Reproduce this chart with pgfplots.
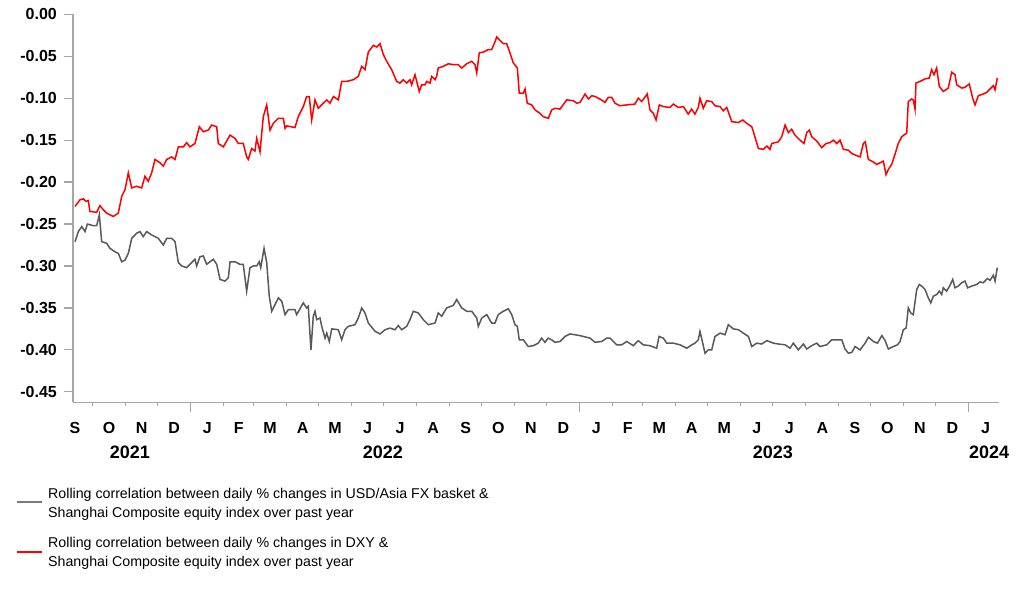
\documentclass[border=0pt]{standalone}
\usepackage{fontspec}
\setmainfont{Liberation Sans}
\usepackage{pgfplots}
\pgfplotsset{compat=1.18}
\definecolor{axisgray}{RGB}{166,166,166}
\definecolor{serGray}{RGB}{89,89,89}
\definecolor{serRed}{RGB}{255,0,0}
\begin{document}
\begin{tikzpicture}
\useasboundingbox (0,0) rectangle (1022bp,-597bp);
\begin{axis}[
  at={(73bp,-402.3bp)}, anchor=south west,
  scale only axis, width=926bp, height=388bp,
  xmin=-110.4, xmax=758.2, ymin=-0.4625, ymax=0,
  axis x line*=bottom, axis y line*=left,
  axis line style={draw=axisgray, line width=1.2bp},
  clip=false,
  ytick={-0.45,-0.40,-0.35,-0.30,-0.25,-0.20,-0.15,-0.10,-0.05,0},
  yticklabels={-0.45,-0.40,-0.35,-0.30,-0.25,-0.20,-0.15,-0.10,-0.05,0.00},
  tick align=outside, major tick length=9bp,
  ytick style={draw=axisgray, line width=1.2bp},
  xtick={-108.5,-76.5,-46,-15.5,15.5,45,74.5,105,135.5,166,196.5,227.5,258,288.5,319,349.5,380.5,410,439.5,470,500.5,531,561.5,592.5,623,653.5,684,714.5,745.5},
  xticklabels={S,O,N,D,J,F,M,A,M,J,J,A,S,O,N,D,J,F,M,A,M,J,J,A,S,O,N,D,J},
  xtick style={draw=none},
  ticklabel style={font=\fontsize{16bp}{19bp}\selectfont\bfseries, text=black},
  yticklabel style={anchor=east, inner sep=0pt, xshift=-7bp},
  xticklabel style={anchor=base, inner sep=0pt, yshift=-22bp},
]
\addplot[serGray, line width=1.5bp] coordinates {
(-108.5,-0.271) (-105.4,-0.259) (-102.2,-0.253) (-99.1,-0.259) (-96.9,-0.250) (-91.4,-0.252) (-88.2,-0.252) (-85.7,-0.239)
(-83.5,-0.271) (-78.8,-0.273) (-75.7,-0.279) (-71.0,-0.283) (-67.9,-0.285) (-64.7,-0.295) (-61.6,-0.293) (-58.5,-0.285)
(-55.3,-0.267) (-50.7,-0.261) (-47.6,-0.259) (-44.5,-0.265) (-41.3,-0.259) (-36.6,-0.263) (-30.4,-0.267) (-25.7,-0.275)
(-22.5,-0.267) (-17.8,-0.267) (-14.7,-0.271) (-11.6,-0.296) (-8.4,-0.300) (-3.8,-0.302) (0.9,-0.296) (4.0,-0.292)
(5.6,-0.300) (8.7,-0.289) (11.8,-0.288) (15.0,-0.298) (21.2,-0.292) (24.4,-0.298) (27.5,-0.316) (32.2,-0.318)
(35.3,-0.314) (36.9,-0.295) (41.6,-0.295) (46.2,-0.298) (49.3,-0.298) (52.5,-0.330) (55.6,-0.302) (58.7,-0.300)
(61.9,-0.300) (64.3,-0.295) (65.7,-0.302) (68.8,-0.279) (71.3,-0.296) (73.7,-0.336) (76.0,-0.354) (79.1,-0.346)
(82.2,-0.338) (85.4,-0.342) (88.5,-0.358) (91.6,-0.352) (97.8,-0.352) (99.4,-0.358) (105.6,-0.344) (108.8,-0.350)
(110.3,-0.348) (112.8,-0.400) (115.0,-0.360) (116.6,-0.354) (118.2,-0.364) (121.3,-0.362) (122.9,-0.372) (126.0,-0.386)
(127.6,-0.380) (130.0,-0.390) (132.3,-0.375) (138.5,-0.376) (141.6,-0.388) (144.7,-0.376) (147.8,-0.372) (154.1,-0.370)
(157.2,-0.362) (160.4,-0.350) (163.5,-0.356) (166.6,-0.368) (172.9,-0.378) (177.6,-0.381) (182.3,-0.376) (187.0,-0.374)
(191.6,-0.376) (194.7,-0.371) (197.9,-0.376) (202.6,-0.372) (205.7,-0.364) (208.8,-0.354) (213.5,-0.356) (218.2,-0.364)
(222.9,-0.370) (229.2,-0.368) (232.2,-0.356) (235.4,-0.360) (240.1,-0.350) (246.3,-0.347) (249.5,-0.340) (254.2,-0.350)
(258.9,-0.354) (263.6,-0.354) (268.3,-0.362) (269.8,-0.372) (273.0,-0.362) (277.7,-0.358) (282.3,-0.368) (285.4,-0.368)
(288.5,-0.358) (293.2,-0.354) (297.9,-0.351) (301.1,-0.358) (304.2,-0.370) (306.4,-0.372) (308.2,-0.388) (312.0,-0.388)
(316.6,-0.396) (321.3,-0.395) (326.0,-0.392) (329.2,-0.386) (332.3,-0.391) (335.4,-0.386) (338.6,-0.388) (341.7,-0.391)
(346.4,-0.390) (351.1,-0.384) (355.8,-0.381) (365.2,-0.383) (374.6,-0.386) (379.2,-0.391) (385.5,-0.390) (390.2,-0.386)
(393.3,-0.386) (399.6,-0.394) (404.3,-0.394) (409.0,-0.390) (415.2,-0.395) (419.8,-0.389) (424.5,-0.394) (430.8,-0.395)
(437.1,-0.398) (439.3,-0.384) (443.3,-0.386) (446.5,-0.392) (452.7,-0.392) (459.0,-0.394) (465.3,-0.398) (470.0,-0.394)
(473.0,-0.392) (476.1,-0.388) (477.7,-0.378) (480.3,-0.392) (482.4,-0.404) (485.5,-0.400) (488.7,-0.400) (491.8,-0.384)
(496.5,-0.380) (501.2,-0.382) (504.3,-0.370) (509.0,-0.375) (513.7,-0.376) (518.4,-0.380) (523.1,-0.384) (526.3,-0.396)
(530.9,-0.392) (535.6,-0.393) (540.4,-0.389) (546.6,-0.392) (551.2,-0.393) (557.5,-0.394) (562.2,-0.398) (565.3,-0.392)
(570.0,-0.400) (574.7,-0.393) (577.8,-0.399) (582.5,-0.395) (587.2,-0.392) (590.3,-0.396) (596.6,-0.394) (601.3,-0.388)
(607.5,-0.388) (610.7,-0.388) (613.8,-0.399) (616.9,-0.404) (620.1,-0.403) (623.2,-0.396) (627.9,-0.400) (632.6,-0.392)
(635.7,-0.385) (640.4,-0.390) (644.2,-0.392) (648.3,-0.383) (651.4,-0.389) (654.4,-0.399) (659.1,-0.396) (662.9,-0.394)
(665.4,-0.390) (668.5,-0.376) (671.1,-0.374) (673.1,-0.350) (675.4,-0.356) (677.8,-0.358) (681.0,-0.328) (683.4,-0.322)
(685.7,-0.324) (688.8,-0.328) (691.9,-0.338) (694.2,-0.344) (696.6,-0.336) (699.8,-0.334) (702.2,-0.330) (704.4,-0.334)
(705.9,-0.326) (709.1,-0.330) (712.2,-0.323) (714.8,-0.316) (716.9,-0.326) (720.0,-0.324) (723.2,-0.320) (726.3,-0.318)
(728.8,-0.326) (732.6,-0.324) (737.3,-0.322) (740.4,-0.319) (743.5,-0.320) (747.2,-0.315) (749.8,-0.317) (752.9,-0.311)
(754.5,-0.318) (756.6,-0.302)
};
\addplot[serRed, line width=1.5bp] coordinates {
(-108.5,-0.229) (-103.8,-0.221) (-100.7,-0.220) (-98.2,-0.223) (-96.1,-0.222) (-94.5,-0.235) (-88.2,-0.236) (-85.1,-0.228)
(-82.0,-0.233) (-78.8,-0.237) (-72.6,-0.241) (-67.9,-0.237) (-64.7,-0.217) (-61.6,-0.209) (-58.5,-0.189) (-55.3,-0.207)
(-50.7,-0.205) (-46.0,-0.207) (-42.9,-0.193) (-39.8,-0.199) (-36.6,-0.189) (-33.5,-0.173) (-28.8,-0.177) (-25.7,-0.181)
(-22.5,-0.173) (-17.8,-0.170) (-14.7,-0.173) (-11.6,-0.158) (-6.9,-0.158) (-3.8,-0.153) (-0.7,-0.158) (4.0,-0.154)
(8.1,-0.134) (11.8,-0.140) (16.5,-0.138) (19.7,-0.132) (24.4,-0.134) (25.9,-0.154) (30.6,-0.158) (36.9,-0.144)
(41.6,-0.148) (44.6,-0.154) (49.3,-0.154) (52.5,-0.170) (54.0,-0.173) (57.2,-0.160) (60.3,-0.163) (61.9,-0.148)
(65.0,-0.164) (68.1,-0.122) (71.3,-0.108) (74.4,-0.138) (77.5,-0.130) (82.2,-0.124) (86.9,-0.124) (88.5,-0.136)
(90.0,-0.133) (97.8,-0.135) (100.9,-0.122) (105.6,-0.110) (108.8,-0.098) (111.2,-0.098) (113.5,-0.126) (116.6,-0.102)
(119.7,-0.112) (124.4,-0.106) (127.6,-0.102) (130.7,-0.106) (133.8,-0.098) (138.5,-0.102) (141.6,-0.080) (146.3,-0.080)
(152.5,-0.078) (157.2,-0.074) (160.4,-0.062) (163.5,-0.066) (166.6,-0.045) (171.3,-0.037) (174.5,-0.039) (177.6,-0.035)
(180.7,-0.048) (183.8,-0.056) (188.5,-0.066) (193.2,-0.080) (196.3,-0.082) (199.4,-0.078) (202.6,-0.082) (205.7,-0.078)
(207.3,-0.084) (210.4,-0.072) (212.0,-0.080) (214.4,-0.092) (216.7,-0.084) (219.8,-0.084) (221.4,-0.080) (224.5,-0.082)
(226.1,-0.074) (229.2,-0.078) (230.7,-0.074) (232.2,-0.064) (236.9,-0.062) (241.6,-0.059) (246.3,-0.060) (251.0,-0.060)
(254.2,-0.064) (258.9,-0.059) (263.6,-0.056) (266.7,-0.060) (268.3,-0.070) (270.7,-0.046) (274.5,-0.045) (279.1,-0.042)
(282.3,-0.042) (285.4,-0.033) (287.0,-0.027) (290.1,-0.031) (293.2,-0.035) (296.4,-0.035) (299.5,-0.046) (302.6,-0.058)
(306.4,-0.064) (308.2,-0.094) (312.0,-0.094) (313.6,-0.089) (315.7,-0.106) (319.9,-0.108) (323.0,-0.114) (327.6,-0.118)
(330.7,-0.122) (335.4,-0.124) (338.6,-0.114) (341.7,-0.112) (346.4,-0.113) (352.7,-0.102) (358.9,-0.103) (362.1,-0.106)
(365.2,-0.105) (369.9,-0.095) (373.0,-0.101) (376.1,-0.097) (379.2,-0.098) (383.9,-0.101) (388.6,-0.105) (391.7,-0.099)
(394.9,-0.099) (398.0,-0.106) (402.7,-0.109) (409.0,-0.108) (416.7,-0.107) (419.8,-0.100) (423.0,-0.104) (428.3,-0.095)
(430.8,-0.114) (433.9,-0.118) (436.5,-0.126) (439.6,-0.108) (443.3,-0.110) (449.6,-0.111) (452.7,-0.107) (457.4,-0.111)
(462.1,-0.110) (466.7,-0.119) (469.9,-0.113) (473.0,-0.119) (476.1,-0.111) (477.7,-0.100) (480.8,-0.112) (484.0,-0.103)
(488.7,-0.104) (491.8,-0.109) (496.5,-0.110) (499.6,-0.115) (502.8,-0.111) (507.5,-0.128) (513.7,-0.129) (517.8,-0.126)
(521.6,-0.130) (526.3,-0.134) (527.8,-0.140) (532.5,-0.160) (537.2,-0.161) (540.4,-0.157) (543.4,-0.161) (545.0,-0.154)
(551.2,-0.152) (554.4,-0.146) (557.5,-0.132) (560.6,-0.141) (563.7,-0.137) (566.8,-0.144) (571.5,-0.150) (575.3,-0.154)
(577.8,-0.141) (580.3,-0.138) (582.5,-0.146) (587.2,-0.151) (591.9,-0.159) (596.0,-0.154) (599.7,-0.153) (602.8,-0.150)
(606.0,-0.154) (609.1,-0.150) (612.2,-0.161) (616.9,-0.162) (620.1,-0.166) (627.9,-0.170) (630.9,-0.154) (632.8,-0.152)
(635.6,-0.173) (640.3,-0.176) (643.5,-0.179) (646.6,-0.177) (649.7,-0.175) (652.2,-0.191) (654.4,-0.185) (657.5,-0.179)
(660.6,-0.167) (663.7,-0.154) (666.9,-0.146) (670.0,-0.143) (671.6,-0.142) (673.1,-0.104) (676.3,-0.101) (677.8,-0.102)
(679.4,-0.113) (680.3,-0.082) (684.1,-0.080) (688.8,-0.077) (692.8,-0.076) (695.0,-0.066) (697.2,-0.072) (699.7,-0.064)
(702.2,-0.086) (705.9,-0.092) (710.6,-0.088) (713.8,-0.069) (716.9,-0.072) (718.5,-0.084) (723.2,-0.088) (726.3,-0.087)
(730.3,-0.083) (733.5,-0.100) (735.7,-0.108) (738.8,-0.097) (743.5,-0.095) (746.7,-0.093) (749.8,-0.089) (752.9,-0.085)
(754.5,-0.090) (756.6,-0.076)
};
\pgfplotsinvokeforeach{-92,-61,-31,31,59,90,120,151,181,212,243,273,304,334,396,424,455,485,516,546,577,608,638,669,699}{
  \draw[axisgray, line width=1bp] (axis cs:#1,-0.4625) -- ++(0bp,-4bp);
}
\pgfplotsinvokeforeach{0,365,730}{
  \draw[axisgray, line width=1bp] (axis cs:#1,-0.4625) -- ++(0bp,-10bp);
}
\node[anchor=base, yshift=-56bp, inner sep=0pt, font=\fontsize{18bp}{20bp}\selectfont\bfseries] at (axis cs:-57,-0.4625) {2021};
\node[anchor=base, yshift=-56bp, inner sep=0pt, font=\fontsize{18bp}{20bp}\selectfont\bfseries] at (axis cs:180.3,-0.4625) {2022};
\node[anchor=base, yshift=-56bp, inner sep=0pt, font=\fontsize{18bp}{20bp}\selectfont\bfseries] at (axis cs:546,-0.4625) {2023};
\node[anchor=base, yshift=-56bp, inner sep=0pt, font=\fontsize{18bp}{20bp}\selectfont\bfseries] at (axis cs:749,-0.4625) {2024};
\end{axis}
\fill[fill=serGray!80!white] (17bp,-501.3bp) rectangle (42bp,-503.3bp);
\node[anchor=base west, inner sep=0pt, font=\fontsize{14.2bp}{17bp}\selectfont] at (48bp,-498.3bp) {Rolling correlation between daily \% changes in USD/Asia FX basket \&};
\node[anchor=base west, inner sep=0pt, font=\fontsize{14.2bp}{17bp}\selectfont] at (48bp,-517.7bp) {Shanghai Composite equity index over past year};
\fill[fill=serRed] (17bp,-550.7bp) rectangle (42bp,-552.7bp);
\node[anchor=base west, inner sep=0pt, font=\fontsize{14.2bp}{17bp}\selectfont] at (48bp,-547.3bp) {Rolling correlation between daily \% changes in DXY \&};
\node[anchor=base west, inner sep=0pt, font=\fontsize{14.2bp}{17bp}\selectfont] at (48bp,-566.7bp) {Shanghai Composite equity index over past year};
\end{tikzpicture}
\end{document}
